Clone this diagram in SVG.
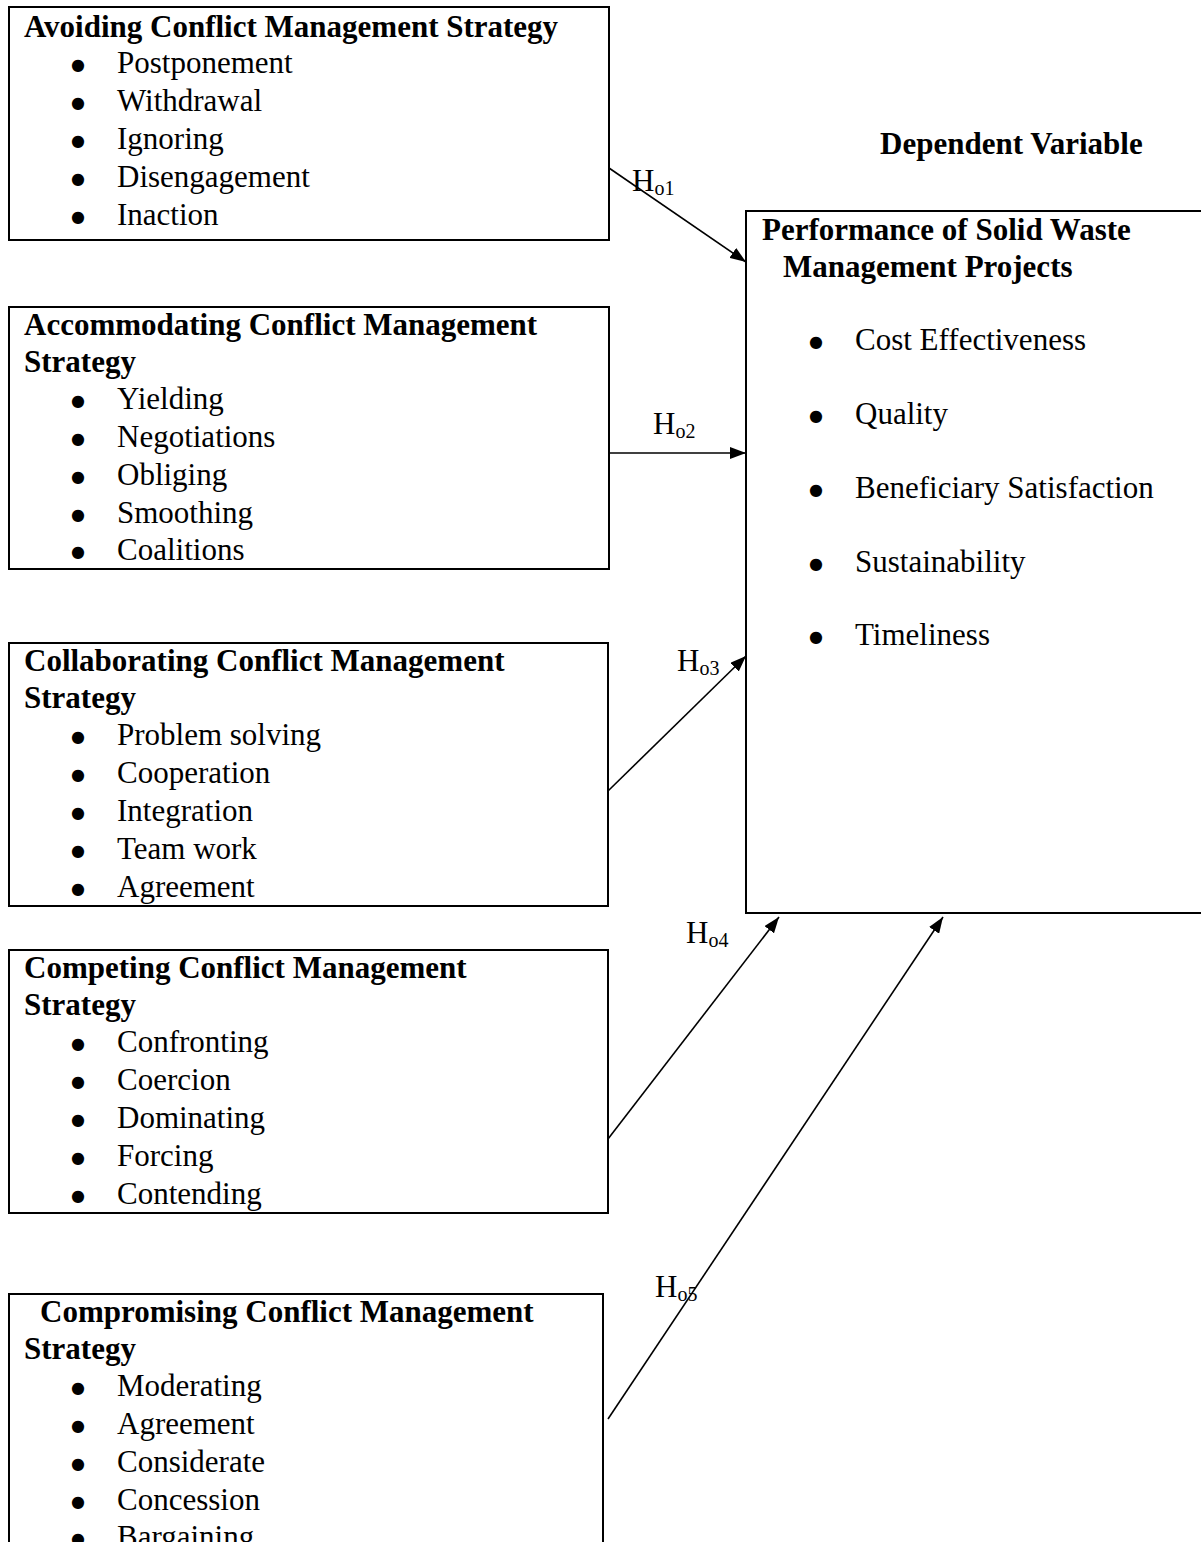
<svg xmlns="http://www.w3.org/2000/svg" width="1201" height="1542" viewBox="0 0 1201 1542">
<defs>
<style>
text{font-family:"Liberation Serif","Times New Roman",serif;font-size:31px;fill:#000}
.b{font-weight:bold}
.bl{font-family:"DejaVu Sans",sans-serif;font-size:16px;text-anchor:middle}
.box{fill:#fff;stroke:#000;stroke-width:2}
.con{stroke:#000;stroke-width:1.6;fill:none}
.sub{font-size:20px}
</style>
<marker id="ah" markerWidth="16" markerHeight="12" refX="16" refY="6" orient="auto" markerUnits="userSpaceOnUse">
<path d="M0,0 L16,6 L0,12 Z" fill="#000"/>
</marker>
</defs>
<rect width="1201" height="1542" fill="#fff"/>

<g id="avoiding">
<rect class="box" x="9" y="7" width="600" height="233"/>
<text class="b" x="24" y="37">Avoiding Conflict Management Strategy</text>
<text class="bl" x="78" y="70">●</text><text x="117" y="73">Postponement</text>
<text class="bl" x="78" y="108">●</text><text x="117" y="111">Withdrawal</text>
<text class="bl" x="78" y="146">●</text><text x="117" y="149">Ignoring</text>
<text class="bl" x="78" y="184">●</text><text x="117" y="187">Disengagement</text>
<text class="bl" x="78" y="222">●</text><text x="117" y="225">Inaction</text>
</g>

<g id="accommodating">
<rect class="box" x="9" y="307" width="600" height="262"/>
<text class="b" x="24" y="335">Accommodating Conflict Management</text>
<text class="b" x="24" y="372">Strategy</text>
<text class="bl" x="78" y="406">●</text><text x="117" y="409">Yielding</text>
<text class="bl" x="78" y="444">●</text><text x="117" y="447">Negotiations</text>
<text class="bl" x="78" y="482">●</text><text x="117" y="485">Obliging</text>
<text class="bl" x="78" y="520">●</text><text x="117" y="523">Smoothing</text>
<text class="bl" x="78" y="557">●</text><text x="117" y="560">Coalitions</text>
</g>

<g id="collaborating">
<rect class="box" x="9" y="643" width="599" height="263"/>
<text class="b" x="24" y="671">Collaborating Conflict Management</text>
<text class="b" x="24" y="708">Strategy</text>
<text class="bl" x="78" y="742">●</text><text x="117" y="745">Problem solving</text>
<text class="bl" x="78" y="780">●</text><text x="117" y="783">Cooperation</text>
<text class="bl" x="78" y="818">●</text><text x="117" y="821">Integration</text>
<text class="bl" x="78" y="856">●</text><text x="117" y="859">Team work</text>
<text class="bl" x="78" y="894">●</text><text x="117" y="897">Agreement</text>
</g>

<g id="competing">
<rect class="box" x="9" y="950" width="599" height="263"/>
<text class="b" x="24" y="978">Competing Conflict Management</text>
<text class="b" x="24" y="1015">Strategy</text>
<text class="bl" x="78" y="1049">●</text><text x="117" y="1052">Confronting</text>
<text class="bl" x="78" y="1087">●</text><text x="117" y="1090">Coercion</text>
<text class="bl" x="78" y="1125">●</text><text x="117" y="1128">Dominating</text>
<text class="bl" x="78" y="1163">●</text><text x="117" y="1166">Forcing</text>
<text class="bl" x="78" y="1201">●</text><text x="117" y="1204">Contending</text>
</g>

<g id="compromising">
<rect class="box" x="9" y="1294" width="594" height="260"/>
<text class="b" x="40" y="1322">Compromising Conflict Management</text>
<text class="b" x="24" y="1359">Strategy</text>
<text class="bl" x="78" y="1393">●</text><text x="117" y="1396">Moderating</text>
<text class="bl" x="78" y="1431">●</text><text x="117" y="1434">Agreement</text>
<text class="bl" x="78" y="1469">●</text><text x="117" y="1472">Considerate</text>
<text class="bl" x="78" y="1507">●</text><text x="117" y="1510">Concession</text>
<text class="bl" x="78" y="1544">●</text><text x="117" y="1547">Bargaining</text>
</g>

<g id="dependent-label">
<text class="b" x="880" y="154">Dependent Variable</text>
</g>

<g id="performance">
<rect class="box" x="746" y="211" width="460" height="702"/>
<text class="b" x="762" y="240">Performance of Solid Waste</text>
<text class="b" x="783" y="277">Management Projects</text>
<text class="bl" x="816" y="347">●</text><text x="855" y="350">Cost Effectiveness</text>
<text class="bl" x="816" y="421">●</text><text x="855" y="424">Quality</text>
<text class="bl" x="816" y="495">●</text><text x="855" y="498">Beneficiary Satisfaction</text>
<text class="bl" x="816" y="569">●</text><text x="855" y="572">Sustainability</text>
<text class="bl" x="816" y="642">●</text><text x="855" y="645">Timeliness</text>
</g>

<g id="connectors">
<line class="con" x1="609" y1="168" x2="746" y2="262" marker-end="url(#ah)"/>
<line class="con" x1="609" y1="453" x2="746" y2="453" marker-end="url(#ah)"/>
<line class="con" x1="608" y1="791" x2="746" y2="656" marker-end="url(#ah)"/>
<line class="con" x1="608" y1="1139" x2="779" y2="917" marker-end="url(#ah)"/>
<line class="con" x1="608" y1="1419" x2="943" y2="917" marker-end="url(#ah)"/>
<text x="632" y="191">H<tspan class="sub" dy="4">o1</tspan></text>
<text x="653" y="434">H<tspan class="sub" dy="4">o2</tspan></text>
<text x="677" y="671">H<tspan class="sub" dy="4">o3</tspan></text>
<text x="686" y="943">H<tspan class="sub" dy="4">o4</tspan></text>
<text x="655" y="1297">H<tspan class="sub" dy="4">o5</tspan></text>
</g>
</svg>
